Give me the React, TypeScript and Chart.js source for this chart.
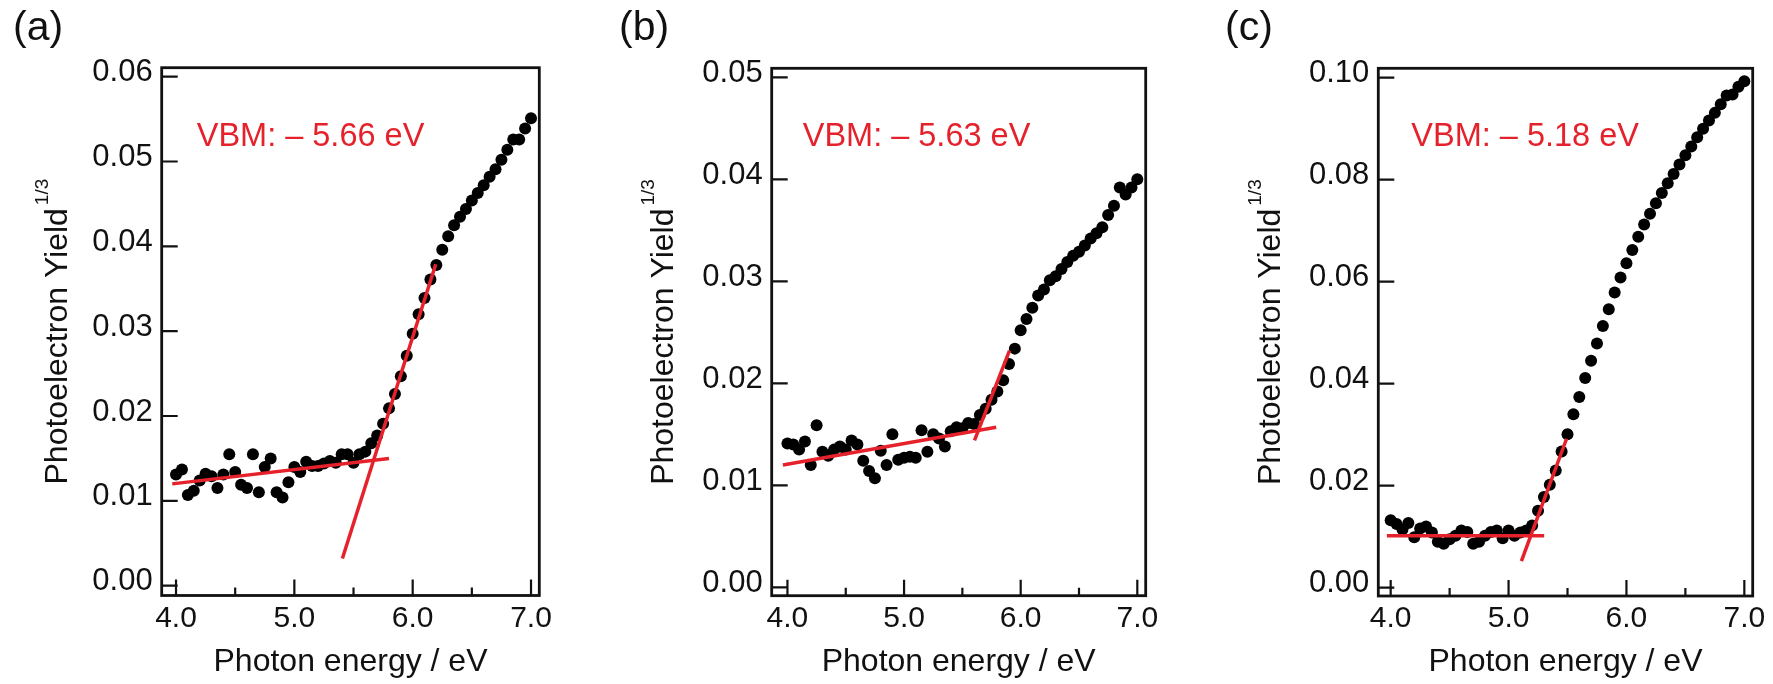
import React, { useEffect, useRef } from "react";
import { Chart, registerables } from "chart.js";

Chart.register(...registerables);

// ---------- data ----------
const energy = [
  4.0, 4.05, 4.1, 4.15, 4.2, 4.25, 4.3, 4.35, 4.4, 4.45, 4.5, 4.55, 4.6, 4.65, 4.7, 4.75, 4.8, 4.85, 4.9, 4.95,
  5.0, 5.05, 5.1, 5.15, 5.2, 5.25, 5.3, 5.35, 5.4, 5.45, 5.5, 5.55, 5.6, 5.65, 5.7, 5.75, 5.8, 5.85, 5.9, 5.95,
  6.0, 6.05, 6.1, 6.15, 6.2, 6.25, 6.3, 6.35, 6.4, 6.45, 6.5, 6.55, 6.6, 6.65, 6.7, 6.75, 6.8, 6.85, 6.9, 6.95,
  7.0,
];

const yieldA = [
  0.0131, 0.0137, 0.0107, 0.0112, 0.0124, 0.0132, 0.0129, 0.0115, 0.0131, 0.0155, 0.0134, 0.0119, 0.0115, 0.0155, 0.011, 0.014, 0.015, 0.011, 0.0104, 0.0122,
  0.014, 0.0134, 0.0146, 0.0141, 0.0141, 0.0144, 0.0147, 0.0145, 0.0155, 0.0155, 0.0145, 0.0155, 0.0158, 0.0168, 0.0177, 0.0191, 0.0209, 0.0226, 0.0247, 0.0271,
  0.0297, 0.032, 0.0339, 0.0361, 0.0378, 0.0396, 0.0412, 0.0425, 0.0435, 0.0444, 0.0454, 0.0463, 0.0472, 0.0482, 0.0491, 0.0502, 0.0514, 0.0526, 0.0526, 0.0539,
  0.0551,
];

const yieldB = [
  0.0141, 0.014, 0.0135, 0.0143, 0.012, 0.0159, 0.0133, 0.0129, 0.0135, 0.0138, 0.0135, 0.0144, 0.014, 0.0124, 0.0114, 0.0107, 0.0134, 0.012, 0.015, 0.0125,
  0.0127, 0.0128, 0.0127, 0.0154, 0.0133, 0.015, 0.0146, 0.0138, 0.0153, 0.0157, 0.0156, 0.0161, 0.016, 0.0169, 0.0175, 0.0184, 0.0192, 0.0203, 0.0219, 0.0234,
  0.0252, 0.0263, 0.0274, 0.0286, 0.0292, 0.0301, 0.0305, 0.0312, 0.0319, 0.0325, 0.0329, 0.0335, 0.0342, 0.0347, 0.0353, 0.0365, 0.0374, 0.0392, 0.0385, 0.0392,
  0.04,
];

const yieldC = [
  0.0132, 0.0125, 0.0114, 0.0127, 0.0099, 0.0116, 0.012, 0.0108, 0.009, 0.0086, 0.0095, 0.0102, 0.0112, 0.0109, 0.0086, 0.009, 0.0102, 0.0109, 0.0112, 0.0097,
  0.0112, 0.0102, 0.0108, 0.0112, 0.0122, 0.0151, 0.0178, 0.0202, 0.023, 0.0267, 0.0301, 0.034, 0.0374, 0.0411, 0.0445, 0.0479, 0.0513, 0.0546, 0.0579, 0.0608,
  0.0636, 0.0662, 0.0688, 0.0712, 0.0733, 0.0754, 0.0774, 0.0793, 0.0811, 0.083, 0.0848, 0.0865, 0.0883, 0.09, 0.0916, 0.0931, 0.0948, 0.0965, 0.0967, 0.0982,
  0.0993,
];

// fitted lines: [x, y] end points
const baseFitA = [[3.968, 0.012], [5.8, 0.015]];
const edgeFitA = [[5.406, 0.0032], [6.195, 0.0379]];
const baseFitB = [[3.961, 0.012], [5.79, 0.0157]];
const edgeFitB = [[5.604, 0.0144], [5.904, 0.0232]];
const baseFitC = [[3.968, 0.0102], [5.302, 0.0102]];
const edgeFitC = [[5.109, 0.0052], [5.492, 0.0292]];

const xTicks = [4.0, 5.0, 6.0, 7.0];
const xMinorTicks = [4.5, 5.5, 6.5];
const yTicksA = [0.0, 0.01, 0.02, 0.03, 0.04, 0.05, 0.06];
const yTicksB = [0.0, 0.01, 0.02, 0.03, 0.04, 0.05];
const yTicksC = [0.0, 0.02, 0.04, 0.06, 0.08, 0.1];

const panelLabels = ["(a)", "(b)", "(c)"];
const vbmLabels = ["VBM: \u2013 5.66 eV", "VBM: \u2013 5.63 eV", "VBM: \u2013 5.18 eV"];
const xTitle = "Photon energy / eV";
const yTitleMain = "Photoelectron Yield";
const yTitleSup = "1/3";

// ---------- layout ----------
const FONT = "'Liberation Sans', Arial, Helvetica, sans-serif";
const RED = "#e5222b";
const H = 684;

type Panel = {
  left: number; width: number; axisW: number; padRight: number; top: number; xAxisH: number;
  xMin: number; xMax: number; yMin: number; yMax: number;
  yTicks: number[]; yDigits: number; data: number[];
  baseFit: number[][]; edgeFit: number[][];
  label: string; labelX: number; vbm: string; vbmDx: number; yTitleX: number;
};

const panels: Panel[] = [
  {
    left: 0, width: 590, axisW: 161.7, padRight: 50.7, top: 67.7, xAxisH: 88.5,
    xMin: 3.879, xMax: 7.07, yMin: -0.00116, yMax: 0.06106, yTicks: yTicksA, yDigits: 2, data: yieldA,
    baseFit: baseFitA, edgeFit: edgeFitA, label: panelLabels[0], labelX: 13, vbm: vbmLabels[0], vbmDx: 35, yTitleX: 67,
  },
  {
    left: 590, width: 590, axisW: 181.7, padRight: 34.3, top: 68.3, xAxisH: 88.3,
    xMin: 3.865, xMax: 7.072, yMin: -0.00082, yMax: 0.05088, yTicks: yTicksB, yDigits: 2, data: yieldB,
    baseFit: baseFitB, edgeFit: edgeFitB, label: panelLabels[1], labelX: 29, vbm: vbmLabels[1], vbmDx: 31, yTitleX: 83,
  },
  {
    left: 1180, width: 593, axisW: 198.3, padRight: 20.3, top: 68.3, xAxisH: 88,
    xMin: 3.895, xMax: 7.071, yMin: -0.00163, yMax: 0.10184, yTicks: yTicksC, yDigits: 2, data: yieldC,
    baseFit: baseFitC, edgeFit: edgeFitC, label: panelLabels[2], labelX: 45, vbm: vbmLabels[2], vbmDx: 33, yTitleX: 100,
  },
];

function makeChart(canvas: HTMLCanvasElement, p: Panel) {
  const decor = {
    id: "decor",
    afterDraw(chart: any) {
      const { ctx, chartArea: a, scales } = chart;
      const xs = scales.x;
      const ys = scales.y;
      ctx.save();
      // inward ticks
      ctx.strokeStyle = "#111";
      ctx.lineWidth = 2.2;
      ctx.beginPath();
      for (const v of p.yTicks) {
        const py = ys.getPixelForValue(v);
        ctx.moveTo(a.left, py);
        ctx.lineTo(a.left + 16, py);
      }
      for (const v of xTicks) {
        const px = xs.getPixelForValue(v);
        ctx.moveTo(px, a.bottom);
        ctx.lineTo(px, a.bottom - 16);
      }
      for (const v of xMinorTicks) {
        const px = xs.getPixelForValue(v);
        ctx.moveTo(px, a.bottom);
        ctx.lineTo(px, a.bottom - 8);
      }
      ctx.stroke();
      // frame
      ctx.lineWidth = 2.8;
      ctx.strokeRect(a.left, a.top, a.right - a.left, a.bottom - a.top);

      // panel label
      ctx.fillStyle = "#111";
      ctx.font = `41px ${FONT}`;
      ctx.textAlign = "left";
      ctx.textBaseline = "alphabetic";
      ctx.fillText(p.label, p.labelX, 40);

      // VBM text
      ctx.fillStyle = RED;
      ctx.font = `32.5px ${FONT}`;
      ctx.fillText(p.vbm, a.left + p.vbmDx, 146);

      // y title with superscript
      ctx.fillStyle = "#111";
      ctx.font = `32px ${FONT}`;
      const mainW = ctx.measureText(yTitleMain).width;
      ctx.font = `19px ${FONT}`;
      const supW = ctx.measureText(yTitleSup).width;
      const gap = 3;
      const total = mainW + gap + supW;
      const cy = (a.top + a.bottom) / 2;
      ctx.translate(p.yTitleX, cy);
      ctx.rotate(-Math.PI / 2);
      ctx.font = `32px ${FONT}`;
      ctx.fillText(yTitleMain, -total / 2, 0);
      ctx.font = `19px ${FONT}`;
      ctx.fillText(yTitleSup, -total / 2 + mainW + gap, -19);
      ctx.restore();
    },
  };

  const toPts = (arr: number[][]) => arr.map(([x, y]) => ({ x, y }));

  return new Chart(canvas, {
    type: "scatter",
    data: {
      datasets: [
        {
          data: toPts(p.baseFit), showLine: true, borderColor: RED, borderWidth: 3.5,
          pointRadius: 0, pointHoverRadius: 0, fill: false,
        },
        {
          data: toPts(p.edgeFit), showLine: true, borderColor: RED, borderWidth: 3.5,
          pointRadius: 0, pointHoverRadius: 0, fill: false,
        },
        {
          data: energy.map((x, i) => ({ x, y: p.data[i] })),
          pointRadius: 6, pointBackgroundColor: "#000", pointBorderWidth: 0, borderColor: "#000",
          showLine: false,
        },
      ],
    } as any,
    options: {
      responsive: false,
      animation: false,
      devicePixelRatio: 1,
      events: [],
      layout: { padding: { top: p.top, right: p.padRight, left: 0, bottom: 0 } },
      plugins: { legend: { display: false }, tooltip: { enabled: false }, title: { display: false } },
      scales: {
        x: {
          type: "linear",
          min: p.xMin,
          max: p.xMax,
          grid: { display: false, drawTicks: false },
          border: { display: false },
          afterBuildTicks: (s: any) => { s.ticks = xTicks.map((v) => ({ value: v })); },
          afterFit: (s: any) => { s.height = p.xAxisH; },
          ticks: {
            color: "#111",
            font: { family: FONT, size: 30 },
            padding: 5,
            maxRotation: 0,
            autoSkip: false,
            callback: (v: any) => Number(v).toFixed(1),
          },
          title: {
            display: true,
            text: xTitle,
            color: "#111",
            font: { family: FONT, size: 32 },
            padding: { top: 0, bottom: 3 },
          },
        },
        y: {
          type: "linear",
          min: p.yMin,
          max: p.yMax,
          grid: { display: false, drawTicks: false },
          border: { display: false },
          afterBuildTicks: (s: any) => { s.ticks = p.yTicks.map((v) => ({ value: v })); },
          afterFit: (s: any) => { s.width = p.axisW; },
          ticks: {
            color: "#111",
            font: { family: FONT, size: 31 },
            padding: 9,
            labelOffset: -4,
            autoSkip: false,
            callback: (v: any) => Number(v).toFixed(p.yDigits),
          },
        },
      },
    } as any,
    plugins: [decor],
  });
}

function PanelChart({ p }: { p: Panel }) {
  const ref = useRef<HTMLCanvasElement | null>(null);
  useEffect(() => {
    if (!ref.current) return;
    const chart = makeChart(ref.current, p);
    return () => chart.destroy();
  }, [p]);
  return (
    <canvas
      ref={ref}
      width={p.width}
      height={H}
      style={{ position: "absolute", left: p.left, top: 0, width: p.width, height: H, display: "block" }}
    />
  );
}

export default function App() {
  return (
    <div style={{ position: "absolute", left: 0, top: 0, width: 1773, height: H, background: "#fff", overflow: "hidden" }}>
      {panels.map((p, i) => (
        <PanelChart key={i} p={p} />
      ))}
    </div>
  );
}
